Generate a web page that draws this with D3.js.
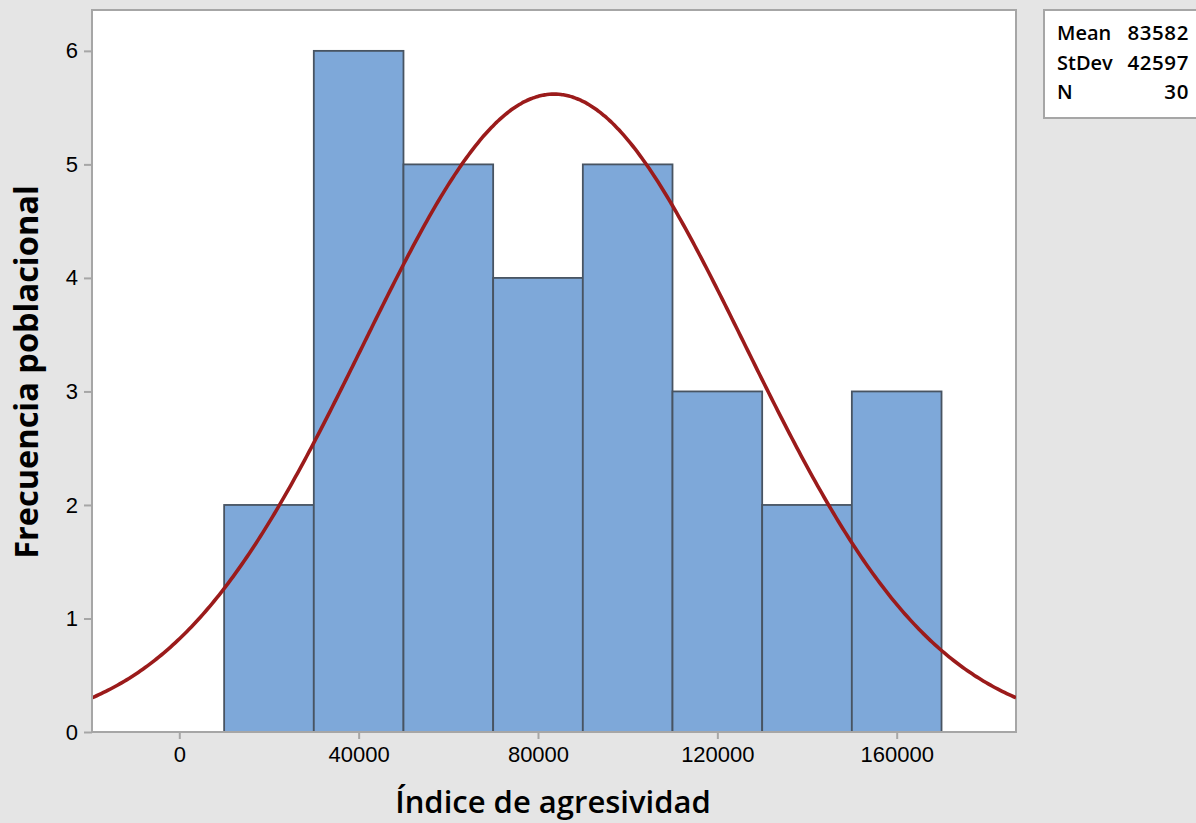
<!DOCTYPE html>
<html>
<head>
<meta charset="utf-8">
<script src="https://cdn.jsdelivr.net/npm/d3@7"></script>
<style>
  html, body { margin: 0; padding: 0; background: #e5e5e5; }
  svg { display: block; font-family: "Open Sans", "Noto Sans", sans-serif; }
</style>
</head>
<body>
<svg id="chart" width="1196" height="823"></svg>
<script>
// Histogram bins (lower edge, upper edge) and their counts
const binStarts = [10000, 30000, 50000, 70000, 90000, 110000, 130000, 150000];
const binEnds   = [30000, 50000, 70000, 90000, 110000, 130000, 150000, 170000];
const counts    = [2, 6, 5, 4, 5, 3, 2, 3];

// Summary statistics shown in the legend box
const statLabels = ["Mean", "StDev", "N"];
const statValues = [83582, 42597, 30];

// Axis ticks
const xTicks = [0, 40000, 80000, 120000, 160000];
const yTicks = [0, 1, 2, 3, 4, 5, 6];

const svg = d3.select("#chart");
const plot = { left: 92, right: 1016, top: 10, bottom: 732 };

const x = d3.scaleLinear().domain([-19470, 186610]).range([plot.left, plot.right]);
const y = d3.scaleLinear().domain([0, 6.36]).range([plot.bottom, plot.top]);

// Plot background
svg.append("rect")
  .attr("x", plot.left).attr("y", plot.top)
  .attr("width", plot.right - plot.left).attr("height", plot.bottom - plot.top)
  .attr("fill", "#ffffff")
  .attr("stroke", "#a6a6a6").attr("stroke-width", 2);

// Bars
const bins = counts.map((c, i) => ({ x0: binStarts[i], x1: binEnds[i], n: c }));
svg.append("g").selectAll("rect").data(bins).join("rect")
  .attr("x", d => x(d.x0))
  .attr("y", d => y(d.n))
  .attr("width", d => x(d.x1) - x(d.x0))
  .attr("height", d => y(0) - y(d.n))
  .attr("fill", "#7ea8d9")
  .attr("stroke", "#485462")
  .attr("stroke-width", 1.8);

// Fitted normal curve scaled to counts: N * binWidth * pdf
const mean = statValues[0], sd = statValues[1], n = statValues[2];
const binWidth = binEnds[0] - binStarts[0];
const [dx0, dx1] = x.domain();
const curveX = d3.range(dx0, dx1 + 1, (dx1 - dx0) / 400);
const fit = v => n * binWidth * Math.exp(-0.5 * ((v - mean) / sd) ** 2) / (sd * Math.sqrt(2 * Math.PI));

const clipId = "plotClip";
svg.append("clipPath").attr("id", clipId).append("rect")
  .attr("x", plot.left).attr("y", plot.top)
  .attr("width", plot.right - plot.left).attr("height", plot.bottom - plot.top);

svg.append("path")
  .datum(curveX)
  .attr("clip-path", `url(#${clipId})`)
  .attr("d", d3.line().x(v => x(v)).y(v => y(fit(v))).curve(d3.curveBasis))
  .attr("fill", "none")
  .attr("stroke", "#9b1b1b")
  .attr("stroke-width", 3.6);

// Axis lines
svg.append("line")
  .attr("x1", plot.left).attr("x2", plot.right)
  .attr("y1", plot.bottom).attr("y2", plot.bottom)
  .attr("stroke", "#a6a6a6").attr("stroke-width", 2);
svg.append("line")
  .attr("x1", plot.left).attr("x2", plot.left)
  .attr("y1", plot.top).attr("y2", plot.bottom)
  .attr("stroke", "#a6a6a6").attr("stroke-width", 2);

// X axis
const xAxis = svg.append("g")
  .attr("transform", `translate(0,${plot.bottom})`)
  .call(d3.axisBottom(x).tickValues(xTicks).tickFormat(d3.format("d")).tickSize(7).tickPadding(7));
xAxis.select(".domain").remove();
xAxis.selectAll(".tick line").attr("stroke", "#a6a6a6").attr("stroke-width", 2);
xAxis.selectAll(".tick text").attr("fill", "#000").style("font-size", "22px").style("font-weight", 500);

// Y axis
const yAxis = svg.append("g")
  .attr("transform", `translate(${plot.left},0)`)
  .call(d3.axisLeft(y).tickValues(yTicks).tickFormat(d3.format("d")).tickSize(8).tickPadding(6));
yAxis.select(".domain").remove();
yAxis.selectAll(".tick line").attr("stroke", "#a6a6a6").attr("stroke-width", 2);
yAxis.selectAll(".tick text").attr("fill", "#000").style("font-size", "22px").style("font-weight", 500);

// Axis titles
svg.append("text")
  .attr("x", 553).attr("y", 813)
  .attr("text-anchor", "middle")
  .attr("fill", "#000")
  .style("font-size", "31px")
  .style("font-weight", 600)
  .text("Índice de agresividad");

svg.append("text")
  .attr("transform", `translate(38,${372}) rotate(-90)`)
  .attr("text-anchor", "middle")
  .attr("fill", "#000")
  .style("font-size", "32.5px")
  .style("font-weight", 700)
  .text("Frecuencia poblacional");

// Statistics box
const box = svg.append("g");
box.append("rect")
  .attr("x", 1044).attr("y", 10).attr("width", 170).attr("height", 108)
  .attr("fill", "#ffffff").attr("stroke", "#a6a6a6").attr("stroke-width", 2);
const rowY = [40, 70, 99];
statLabels.forEach((lab, i) => {
  box.append("text").attr("x", 1057).attr("y", rowY[i])
    .attr("fill", "#000").style("font-size", "20px").style("font-weight", 600)
    .text(lab);
  box.append("text").attr("x", 1189).attr("y", rowY[i])
    .attr("text-anchor", "end")
    .attr("fill", "#000").style("font-size", "20.5px").style("font-weight", 600)
    .style("letter-spacing", "0.6px")
    .text(statValues[i]);
});
</script>
</body>
</html>
